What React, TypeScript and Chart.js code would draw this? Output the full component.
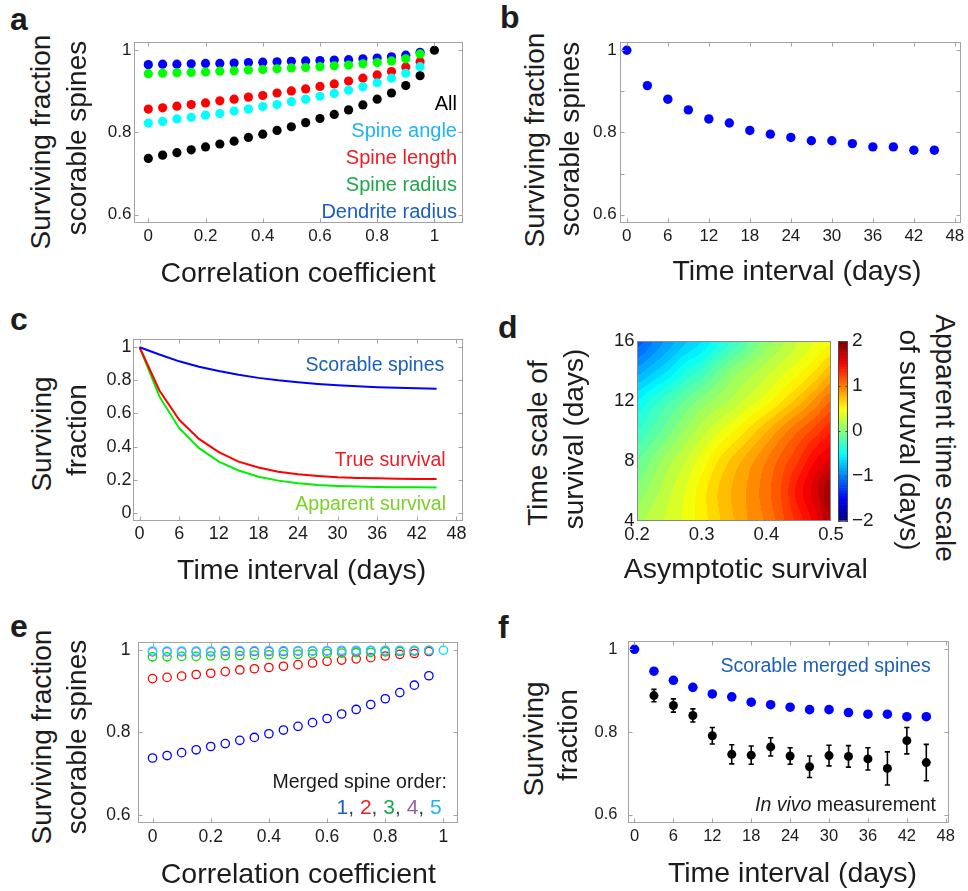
import React, { useEffect, useRef } from 'react';
import { Chart, registerables } from 'chart.js';

Chart.register(...registerables);

const W = 968;
const H = 891;
const FONT = "'Liberation Sans', Arial, Helvetica, sans-serif";
const INK = '#1c1c1c';
const BOX = '#a3a3a3';

// ---------------- panel a ----------------
const CORR = [0, 0.05, 0.1, 0.15, 0.2, 0.25, 0.3, 0.35, 0.4, 0.45, 0.5, 0.55, 0.6, 0.65, 0.7, 0.75, 0.8, 0.85, 0.9, 0.95];
const CORR_LAST = 1;
const A_ALL = [0.737, 0.745, 0.751, 0.758, 0.765, 0.772, 0.779, 0.788, 0.796, 0.805, 0.814, 0.824, 0.834, 0.844, 0.855, 0.867, 0.881, 0.896, 0.914, 0.938, 1.0];
const A_ANGLE = [0.823, 0.827, 0.833, 0.837, 0.842, 0.846, 0.852, 0.857, 0.863, 0.868, 0.875, 0.881, 0.888, 0.895, 0.903, 0.911, 0.921, 0.932, 0.944, 0.96];
const A_LENGTH = [0.857, 0.86, 0.864, 0.868, 0.872, 0.877, 0.881, 0.886, 0.89, 0.896, 0.901, 0.906, 0.912, 0.918, 0.925, 0.932, 0.94, 0.948, 0.959, 0.972];
const A_SPINE_RADIUS = [0.943, 0.944, 0.945, 0.946, 0.947, 0.949, 0.95, 0.952, 0.953, 0.955, 0.957, 0.958, 0.96, 0.962, 0.964, 0.967, 0.97, 0.974, 0.979, 0.991];
const A_DEND_RADIUS = [0.965, 0.966, 0.966, 0.967, 0.968, 0.968, 0.969, 0.97, 0.971, 0.972, 0.973, 0.974, 0.975, 0.976, 0.977, 0.979, 0.981, 0.984, 0.988, 0.995];

const CORR_TICKS = [0, 0.2, 0.4, 0.6, 0.8, 1];
const CORR_LABELS = ['0', '0.2', '0.4', '0.6', '0.8', '1'];
const FRAC_TICKS = [0.6, 0.8, 1];
const FRAC_LABELS = ['0.6', '0.8', '1'];

// ---------------- panel b ----------------
const DAYS = [0, 3, 6, 9, 12, 15, 18, 21, 24, 27, 30, 33, 36, 39, 42, 45];
const B_SCORABLE = [1.0, 0.914, 0.881, 0.855, 0.833, 0.823, 0.805, 0.796, 0.788, 0.78, 0.78, 0.773, 0.765, 0.765, 0.757, 0.757];
const FRAC_TICKS_B = [0.6, 0.7, 0.8, 0.9, 1];
const FRAC_LABELS_B = ['0.6', '', '0.8', '', '1'];
const DAY_TICKS = [0, 6, 12, 18, 24, 30, 36, 42, 48];
const DAY_LABELS = ['0', '6', '12', '18', '24', '30', '36', '42', '48'];

// ---------------- panel c ----------------
const C_SCORABLE = [1.0, 0.956, 0.915, 0.882, 0.856, 0.834, 0.815, 0.8, 0.788, 0.778, 0.77, 0.764, 0.759, 0.755, 0.752, 0.749];
const C_TRUE = [1.0, 0.739, 0.562, 0.446, 0.366, 0.309, 0.273, 0.248, 0.232, 0.222, 0.214, 0.21, 0.208, 0.206, 0.204, 0.204];
const C_APPARENT = [1.0, 0.703, 0.511, 0.39, 0.309, 0.255, 0.218, 0.194, 0.178, 0.168, 0.162, 0.158, 0.156, 0.154, 0.154, 0.152];
const C_Y_TICKS = [0, 0.2, 0.4, 0.6, 0.8, 1];
const C_Y_LABELS = ['0', '0.2', '0.4', '0.6', '0.8', '1'];

// ---------------- panel d ----------------
const D_ASYM = [0.2, 0.225, 0.25, 0.275, 0.3, 0.325, 0.35, 0.375, 0.4, 0.425, 0.45, 0.475, 0.5];
const D_TAU = [4, 6, 8, 10, 12, 14, 16];
const D_Z = [
  [0.17, 0.25, 0.33, 0.43, 0.55, 0.68, 0.8, 0.92, 1.02, 1.18, 1.35, 1.55, 1.8],
  [0.03, 0.15, 0.28, 0.4, 0.55, 0.7, 0.82, 0.93, 1.06, 1.22, 1.45, 1.65, 1.9],
  [-0.1, 0.03, 0.17, 0.3, 0.44, 0.6, 0.74, 0.87, 1.0, 1.15, 1.3, 1.5, 1.62],
  [-0.3, -0.17, -0.03, 0.12, 0.25, 0.38, 0.5, 0.64, 0.79, 0.95, 1.1, 1.24, 1.38],
  [-0.5, -0.35, -0.22, -0.09, 0.04, 0.14, 0.24, 0.35, 0.46, 0.6, 0.75, 0.92, 1.1],
  [-0.85, -0.72, -0.58, -0.4, -0.28, -0.1, 0.05, 0.16, 0.26, 0.37, 0.47, 0.6, 0.76],
  [-1.15, -1.0, -0.85, -0.72, -0.6, -0.43, -0.27, -0.1, 0.06, 0.18, 0.3, 0.4, 0.48],
];
const D_X_TICKS = [0.2, 0.3, 0.4, 0.5];
const D_X_LABELS = ['0.2', '0.3', '0.4', '0.5'];
const D_Y_TICKS = [4, 8, 12, 16];
const D_Y_LABELS = ['4', '8', '12', '16'];
const CB_TICKS = [-2, -1, 0, 1, 2];
const CB_LABELS = ['\u22122', '\u22121', '0', '1', '2'];

// ---------------- panel e ----------------
const E_ORDER1 = [0.738, 0.744, 0.751, 0.758, 0.766, 0.773, 0.781, 0.788, 0.797, 0.806, 0.815, 0.824, 0.834, 0.845, 0.856, 0.868, 0.882, 0.897, 0.915, 0.938];
const E_ORDER2 = [0.931, 0.934, 0.937, 0.941, 0.944, 0.948, 0.952, 0.955, 0.958, 0.961, 0.965, 0.969, 0.973, 0.976, 0.979, 0.982, 0.986, 0.99, 0.992, 0.997];
const E_ORDER3 = [0.984, 0.984, 0.985, 0.985, 0.986, 0.987, 0.987, 0.988, 0.989, 0.99, 0.99, 0.991, 0.992, 0.993, 0.994, 0.995, 0.996, 0.997, 0.998, 0.999];
const E_ORDER4 = [0.996, 0.996, 0.996, 0.996, 0.996, 0.997, 0.997, 0.997, 0.997, 0.997, 0.998, 0.998, 0.998, 0.998, 0.998, 0.999, 0.999, 0.999, 0.999, 0.999];
const E_ORDER5 = [0.998, 0.998, 0.998, 0.998, 0.998, 0.999, 0.999, 0.999, 0.999, 0.999, 0.999, 0.999, 0.999, 1.0, 1.0, 1.0, 1.0, 1.0, 1.0, 1.0, 1.0];

// ---------------- panel f ----------------
const F_SCORABLE_MERGED = [1.0, 0.947, 0.925, 0.908, 0.892, 0.885, 0.872, 0.866, 0.86, 0.854, 0.854, 0.847, 0.843, 0.843, 0.837, 0.837];
const F_VIVO_DAYS = [3, 6, 9, 12, 15, 18, 21, 24, 27, 30, 33, 36, 39, 42, 45];
const F_VIVO = [0.888, 0.864, 0.84, 0.791, 0.746, 0.744, 0.764, 0.742, 0.716, 0.743, 0.741, 0.735, 0.712, 0.779, 0.726];
const F_VIVO_ERR = [0.015, 0.016, 0.016, 0.02, 0.023, 0.022, 0.022, 0.02, 0.026, 0.025, 0.026, 0.027, 0.04, 0.032, 0.044];

// ---------------- colours ----------------
const T_BLUE = '#1a5fbe';
const T_RED = '#ec1c24';
const T_GREEN = '#1ca84b';
const T_LIME = '#78d228';
const T_CYAN = '#1eb4f0';
const T_PURPLE = '#8e63a9';

// ---------------- geometry ----------------
type Geo = { L: number; T: number; R: number; B: number; l: number; t: number; r: number; b: number };
const GA: Geo = { L: 134, T: 42, R: 463, B: 223, l: 60, t: 20, r: 25, b: 36 };
const GB: Geo = { L: 620, T: 42, R: 961, B: 223, l: 60, t: 20, r: 25, b: 36 };
const GC: Geo = { L: 133, T: 339, R: 463, B: 521, l: 60, t: 20, r: 25, b: 36 };
const GD: Geo = { L: 637, T: 341, R: 831, B: 521, l: 40, t: 20, r: 25, b: 36 };
const GCB: Geo = { L: 838, T: 341, R: 848, B: 521, l: 2, t: 20, r: 40, b: 20 };
const GE: Geo = { L: 138, T: 642, R: 458, B: 823, l: 60, t: 20, r: 25, b: 36 };
const GF: Geo = { L: 628, T: 641, R: 949, B: 823, l: 60, t: 20, r: 25, b: 36 };

const pts = (xs: number[], ys: number[]) => ys.map((y, i) => ({ x: xs[i], y }));

function axis(pos: string, min: number, max: number, ticks: number[], labels: string[], size: number, pad: number, fit: number) {
  return {
    type: 'linear',
    position: pos,
    min,
    max,
    bounds: 'data',
    grid: { display: false, drawTicks: false },
    border: { display: false },
    afterBuildTicks: (s: any) => {
      s.ticks = ticks.map((v) => ({ value: v }));
    },
    afterFit: (s: any) => {
      if (pos === 'bottom' || pos === 'top') s.height = fit;
      else s.width = fit;
    },
    ticks: {
      autoSkip: false,
      maxRotation: 0,
      minRotation: 0,
      padding: pad,
      color: INK,
      font: { family: FONT, size, lineHeight: 1 },
      callback: (_v: any, i: number) => labels[i],
    },
  };
}

function boxPlugin(ticksOn = true, color = BOX, len = 4) {
  return {
    id: 'mbox',
    afterDatasetsDraw(chart: any) {
      const { ctx, chartArea: a, scales } = chart;
      ctx.save();
      ctx.strokeStyle = color;
      ctx.lineWidth = 1;
      const l = Math.round(a.left) + 0.5;
      const r = Math.round(a.right) - 0.5;
      const t = Math.round(a.top) + 0.5;
      const b = Math.round(a.bottom) - 0.5;
      ctx.strokeRect(l, t, r - l, b - t);
      if (ticksOn) {
        ctx.beginPath();
        for (const tk of scales.x.ticks) {
          const p = Math.round(scales.x.getPixelForValue(tk.value)) + 0.5;
          ctx.moveTo(p, b);
          ctx.lineTo(p, b - len);
          ctx.moveTo(p, t);
          ctx.lineTo(p, t + len);
        }
        for (const tk of scales.y.ticks) {
          const p = Math.round(scales.y.getPixelForValue(tk.value)) + 0.5;
          ctx.moveTo(l, p);
          ctx.lineTo(l + len, p);
          ctx.moveTo(r, p);
          ctx.lineTo(r - len, p);
        }
        ctx.stroke();
      }
      ctx.restore();
    },
  };
}

function cfg(g: Geo, x: any, y: any, datasets: any[], plugins: any[]) {
  return {
    type: 'scatter',
    data: { datasets },
    options: {
      responsive: false,
      animation: false,
      devicePixelRatio: 1,
      events: [],
      layout: { padding: { left: 0, top: g.t, right: g.r, bottom: 0 } },
      scales: { x, y },
      plugins: { legend: { display: false }, tooltip: { enabled: false } },
    },
    plugins,
  };
}

const dots = (data: any[], color: string, r: number) => ({
  data,
  showLine: false,
  pointBackgroundColor: color,
  pointBorderColor: color,
  pointBorderWidth: 0,
  pointRadius: r,
  pointHoverRadius: r,
});
const rings = (data: any[], color: string, r: number) => ({
  data,
  showLine: false,
  pointBackgroundColor: 'rgba(0,0,0,0)',
  pointBorderColor: color,
  pointBorderWidth: 1.3,
  pointRadius: r,
  pointHoverRadius: r,
});
const line = (data: any[], color: string) => ({
  data,
  showLine: true,
  borderColor: color,
  borderWidth: 2,
  pointRadius: 0,
  fill: false,
  tension: 0,
});

function jet(t: number) {
  const tt = Math.max(0, Math.min(1, t));
  const f = (c: number) => Math.max(0, Math.min(1, 1.5 - Math.abs(4 * tt - c)));
  return `rgb(${Math.round(255 * f(3))},${Math.round(255 * f(2))},${Math.round(255 * f(1))})`;
}

function seg(arr: number[], v: number) {
  let i = 0;
  while (i < arr.length - 2 && v > arr[i + 1]) i++;
  return i;
}

// smooth (Catmull-Rom) shading between the grid values
function cr(p0: number, p1: number, p2: number, p3: number, t: number) {
  return 0.5 * (2 * p1 + (-p0 + p2) * t + (2 * p0 - 5 * p1 + 4 * p2 - p3) * t * t + (-p0 + 3 * p1 - 3 * p2 + p3) * t * t * t);
}

function heatAt(a: number, tau: number) {
  const i = seg(D_ASYM, a);
  const j = seg(D_TAU, tau);
  const fx = Math.max(0, Math.min(1, (a - D_ASYM[i]) / (D_ASYM[i + 1] - D_ASYM[i])));
  const fy = Math.max(0, Math.min(1, (tau - D_TAU[j]) / (D_TAU[j + 1] - D_TAU[j])));
  const ci = (k: number) => Math.max(0, Math.min(D_ASYM.length - 1, k));
  const rj = (k: number) => Math.max(0, Math.min(D_TAU.length - 1, k));
  const row = (k: number) => {
    const r = D_Z[rj(k)];
    return cr(r[ci(i - 1)], r[ci(i)], r[ci(i + 1)], r[ci(i + 2)], fx);
  };
  return cr(row(j - 1), row(j), row(j + 1), row(j + 2), fy);
}

const heatPlugin = {
  id: 'heat',
  beforeDatasetsDraw(chart: any) {
    const { ctx, chartArea: a, scales } = chart;
    const x0 = Math.round(a.left);
    const x1 = Math.round(a.right);
    const y0 = Math.round(a.top);
    const y1 = Math.round(a.bottom);
    ctx.save();
    for (let px = x0; px < x1; px++) {
      const va = scales.x.getValueForPixel(px + 0.5);
      for (let py = y0; py < y1; py++) {
        const vt = scales.y.getValueForPixel(py + 0.5);
        const v = heatAt(va, vt);
        const q = Math.floor(v / 0.1) * 0.1 + 0.05;
        ctx.fillStyle = jet((q + 2) / 4);
        ctx.fillRect(px, py, 1, 1);
      }
    }
    ctx.restore();
  },
};

const colorbarPlugin = {
  id: 'cbar',
  beforeDatasetsDraw(chart: any) {
    const { ctx, chartArea: a, scales } = chart;
    const ys = scales.y;
    const n = 64;
    ctx.save();
    for (let i = 0; i < n; i++) {
      const v0 = -2 + (i * 4) / n;
      const v1 = -2 + ((i + 1) * 4) / n;
      const p0 = ys.getPixelForValue(v0);
      const p1 = ys.getPixelForValue(v1);
      ctx.fillStyle = jet((i + 0.5) / n);
      ctx.fillRect(a.left, p1, a.right - a.left, p0 - p1 + 0.6);
    }
    ctx.strokeStyle = '#4a4a4a';
    ctx.lineWidth = 1;
    ctx.strokeRect(Math.round(a.left) + 0.5, Math.round(a.top) + 0.5, Math.round(a.right - a.left) - 1, Math.round(a.bottom - a.top) - 1);
    ctx.beginPath();
    for (const tk of ys.ticks) {
      const p = Math.round(ys.getPixelForValue(tk.value)) + 0.5;
      ctx.moveTo(a.left, p);
      ctx.lineTo(a.left + 2.5, p);
      ctx.moveTo(a.right, p);
      ctx.lineTo(a.right - 2.5, p);
    }
    ctx.stroke();
    ctx.restore();
  },
};

const errPlugin = {
  id: 'errbars',
  beforeDatasetsDraw(chart: any) {
    const { ctx, scales } = chart;
    ctx.save();
    ctx.strokeStyle = '#000';
    ctx.lineWidth = 1.6;
    F_VIVO_DAYS.forEach((d, i) => {
      const px = scales.x.getPixelForValue(d);
      const lo = scales.y.getPixelForValue(F_VIVO[i] - F_VIVO_ERR[i]);
      const hi = scales.y.getPixelForValue(F_VIVO[i] + F_VIVO_ERR[i]);
      ctx.beginPath();
      ctx.moveTo(px, lo);
      ctx.lineTo(px, hi);
      ctx.moveTo(px - 2.6, lo);
      ctx.lineTo(px + 2.6, lo);
      ctx.moveTo(px - 2.6, hi);
      ctx.lineTo(px + 2.6, hi);
      ctx.stroke();
    });
    ctx.restore();
  },
};

const canvasProps = (g: Geo) => {
  const width = g.R - g.L + g.l + g.r;
  const height = g.B - g.T + g.t + g.b;
  return {
    width,
    height,
    style: { position: 'absolute' as const, left: g.L - g.l, top: g.T - g.t, width, height },
  };
};

function Txt(p: { x: number; y: number; size: number; children: any; color?: string; align?: string; rot?: number; bold?: boolean }) {
  const base: any = {
    position: 'absolute',
    fontFamily: FONT,
    fontSize: p.size,
    lineHeight: `${p.size}px`,
    whiteSpace: 'nowrap',
    color: p.color || INK,
    fontWeight: p.bold ? 'bold' : 'normal',
  };
  if (p.rot) {
    return <div style={{ ...base, left: p.x, top: p.y, transform: `translate(-50%, -50%) rotate(${p.rot}deg)` }}>{p.children}</div>;
  }
  if (p.align === 'right') {
    return <div style={{ ...base, right: W - p.x, top: p.y - p.size / 2 }}>{p.children}</div>;
  }
  if (p.align === 'center') {
    return <div style={{ ...base, left: p.x, top: p.y - p.size / 2, transform: 'translateX(-50%)' }}>{p.children}</div>;
  }
  return <div style={{ ...base, left: p.x, top: p.y - p.size / 2 }}>{p.children}</div>;
}

export default function App() {
  const rA = useRef<HTMLCanvasElement>(null);
  const rB = useRef<HTMLCanvasElement>(null);
  const rC = useRef<HTMLCanvasElement>(null);
  const rD = useRef<HTMLCanvasElement>(null);
  const rCB = useRef<HTMLCanvasElement>(null);
  const rE = useRef<HTMLCanvasElement>(null);
  const rF = useRef<HTMLCanvasElement>(null);

  useEffect(() => {
    const charts: Chart[] = [];
    const mk = (el: HTMLCanvasElement | null, c: any) => {
      if (el) charts.push(new Chart(el, c));
    };
    const CORR_ALL = [...CORR, CORR_LAST];

    // a
    mk(
      rA.current,
      cfg(
        GA,
        axis('bottom', -0.05, 1.1, CORR_TICKS, CORR_LABELS, 17, 5, GA.b),
        axis('left', 0.58, 1.02, FRAC_TICKS, FRAC_LABELS, 17, 2.5, GA.l),
        [
          dots(pts(CORR_ALL, A_ALL), '#000000', 4.6),
          dots(pts(CORR, A_ANGLE), '#00ffff', 4.6),
          dots(pts(CORR, A_SPINE_RADIUS), '#00ff00', 4.6),
          dots(pts(CORR, A_LENGTH), '#ff0000', 4.6),
          dots(pts(CORR, A_DEND_RADIUS), '#0000ff', 4.6),
        ],
        [boxPlugin()]
      )
    );

    // b
    mk(
      rB.current,
      cfg(
        GB,
        axis('bottom', -1, 48.9, DAY_TICKS, DAY_LABELS, 17, 5, GB.b),
        axis('left', 0.58, 1.02, FRAC_TICKS_B, FRAC_LABELS_B, 17, 3.3, GB.l),
        [dots(pts(DAYS, B_SCORABLE), '#0000ff', 4.7)],
        [boxPlugin()]
      )
    );

    // c
    mk(
      rC.current,
      cfg(
        GC,
        axis('bottom', -1, 49, DAY_TICKS, DAY_LABELS, 18, 4.5, GC.b),
        axis('left', -0.05, 1.05, C_Y_TICKS, C_Y_LABELS, 18, 1.5, GC.l),
        [line(pts(DAYS, C_SCORABLE), '#0000ff'), line(pts(DAYS, C_TRUE), '#ff0000'), line(pts(DAYS, C_APPARENT), '#00ee00')],
        [boxPlugin()]
      )
    );

    // d heat map
    mk(
      rD.current,
      cfg(
        GD,
        axis('bottom', 0.2, 0.5, D_X_TICKS, D_X_LABELS, 18.5, 4.5, GD.b),
        axis('left', 4, 16, D_Y_TICKS, D_Y_LABELS, 18.5, 2.5, GD.l),
        [{ data: [] }],
        [heatPlugin, boxPlugin(false, '#8a8a8a')]
      )
    );

    // d colour bar
    mk(rCB.current, {
      type: 'scatter',
      data: { datasets: [{ data: [] }] },
      options: {
        responsive: false,
        animation: false,
        devicePixelRatio: 1,
        events: [],
        layout: { padding: { left: GCB.l, top: GCB.t, right: 0, bottom: GCB.b } },
        scales: {
          x: { type: 'linear', display: false, min: 0, max: 1 },
          y: axis('right', -2, 2, CB_TICKS, CB_LABELS, 19, 4, GCB.r),
        },
        plugins: { legend: { display: false }, tooltip: { enabled: false } },
      },
      plugins: [colorbarPlugin],
    });

    // e
    mk(
      rE.current,
      cfg(
        GE,
        axis('bottom', -0.05, 1.05, CORR_TICKS, CORR_LABELS, 17.5, 5, GE.b),
        axis('left', 0.58, 1.02, FRAC_TICKS, FRAC_LABELS, 17.5, 7.5, GE.l),
        [
          rings(pts(CORR_ALL, E_ORDER5), '#00e5ff', 4.2),
          rings(pts(CORR, E_ORDER4), '#ee22ff', 4.2),
          rings(pts(CORR, E_ORDER3), '#00e000', 4.2),
          rings(pts(CORR, E_ORDER2), '#ff0000', 4.2),
          rings(pts(CORR, E_ORDER1), '#0000ff', 4.2),
        ],
        [boxPlugin()]
      )
    );

    // f
    mk(
      rF.current,
      cfg(
        GF,
        axis('bottom', -1, 48.5, DAY_TICKS, DAY_LABELS, 16.5, 5, GF.b),
        axis('left', 0.58, 1.02, FRAC_TICKS, FRAC_LABELS, 16.5, 10.5, GF.l),
        [dots(pts(F_VIVO_DAYS, F_VIVO), '#000000', 4.5), dots(pts(DAYS, F_SCORABLE_MERGED), '#0000ff', 4.8)],
        [errPlugin, boxPlugin()]
      )
    );

    return () => charts.forEach((c) => c.destroy());
  }, []);

  const TS = 28.5;
  const YS = 28;
  const LS = 20;

  return (
    <div style={{ position: 'absolute', left: 0, top: 0, width: W, height: H, overflow: 'hidden', background: '#ffffff', fontFamily: FONT }}>
      <canvas ref={rA} {...canvasProps(GA)} />
      <canvas ref={rB} {...canvasProps(GB)} />
      <canvas ref={rC} {...canvasProps(GC)} />
      <canvas ref={rD} {...canvasProps(GD)} />
      <canvas ref={rCB} {...canvasProps(GCB)} />
      <canvas ref={rE} {...canvasProps(GE)} />
      <canvas ref={rF} {...canvasProps(GF)} />

      {/* panel letters */}
      <Txt x={10} y={19} size={32} bold>a</Txt>
      <Txt x={500} y={17} size={32} bold>b</Txt>
      <Txt x={10} y={319} size={32} bold>c</Txt>
      <Txt x={498} y={327} size={32} bold>d</Txt>
      <Txt x={10} y={626} size={32} bold>e</Txt>
      <Txt x={498} y={627} size={32} bold>f</Txt>

      {/* a */}
      <Txt x={41.3} y={142} size={YS} rot={-90}>Surviving fraction</Txt>
      <Txt x={77} y={138} size={YS} rot={-90}>scorable spines</Txt>
      <Txt x={298} y={272} size={TS} align="center">Correlation coefficient</Txt>
      <Txt x={457} y={103} size={LS} align="right" color="#000">All</Txt>
      <Txt x={457} y={129.7} size={LS} align="right" color={T_CYAN}>Spine angle</Txt>
      <Txt x={457} y={157} size={LS} align="right" color={T_RED}>Spine length</Txt>
      <Txt x={457} y={183.7} size={LS} align="right" color={T_GREEN}>Spine radius</Txt>
      <Txt x={457} y={210.7} size={LS} align="right" color={T_BLUE}>Dendrite radius</Txt>

      {/* b */}
      <Txt x={534.7} y={140} size={YS} rot={-90}>Surviving fraction</Txt>
      <Txt x={570} y={139} size={YS} rot={-90}>scorable spines</Txt>
      <Txt x={797} y={270.5} size={TS} align="center">Time interval (days)</Txt>

      {/* c */}
      <Txt x={41.7} y={434} size={YS} rot={-90}>Surviving</Txt>
      <Txt x={77} y={430} size={YS} rot={-90}>fraction</Txt>
      <Txt x={301.7} y={568.8} size={TS} align="center">Time interval (days)</Txt>
      <Txt x={444.3} y={364.8} size={19.5} align="right" color={T_BLUE}>Scorable spines</Txt>
      <Txt x={445.7} y={460} size={19.5} align="right" color={T_RED}>True survival</Txt>
      <Txt x={446} y={503.3} size={19.5} align="right" color={T_LIME}>Apparent survival</Txt>

      {/* d */}
      <Txt x={537.5} y={442.5} size={YS} rot={-90}>Time scale of</Txt>
      <Txt x={574} y={438.5} size={YS} rot={-90}>survival (days)</Txt>
      <Txt x={945} y={438} size={YS} rot={90}>Apparent time scale</Txt>
      <Txt x={909} y={439.5} size={YS} rot={90}>of survuval (days)</Txt>
      <Txt x={745.8} y={568} size={TS} align="center">Asymptotic survival</Txt>

      {/* e */}
      <Txt x={41.7} y={736.7} size={YS} rot={-90}>Surviving fraction</Txt>
      <Txt x={77} y={736.7} size={YS} rot={-90}>scorable spines</Txt>
      <Txt x={298.3} y={873} size={TS} align="center">Correlation coefficient</Txt>
      <Txt x={447} y={782} size={19.5} align="right">Merged spine order:</Txt>
      <Txt x={441.7} y={806.2} size={21} align="right" color="#444">
        <span style={{ color: T_BLUE }}>1</span>, <span style={{ color: T_RED }}>2</span>, <span style={{ color: T_GREEN }}>3</span>,{' '}
        <span style={{ color: T_PURPLE }}>4</span>, <span style={{ color: T_CYAN }}>5</span>
      </Txt>

      {/* f */}
      <Txt x={533.7} y={739} size={YS} rot={-90}>Surviving</Txt>
      <Txt x={568.3} y={735} size={YS} rot={-90}>fraction</Txt>
      <Txt x={792.5} y={872.7} size={TS} align="center">Time interval (days)</Txt>
      <Txt x={930.7} y={665.5} size={19.5} align="right" color={T_BLUE}>Scorable merged spines</Txt>
      <Txt x={936} y={805} size={19.5} align="right">
        <i>In vivo</i> measurement
      </Txt>
    </div>
  );
}
